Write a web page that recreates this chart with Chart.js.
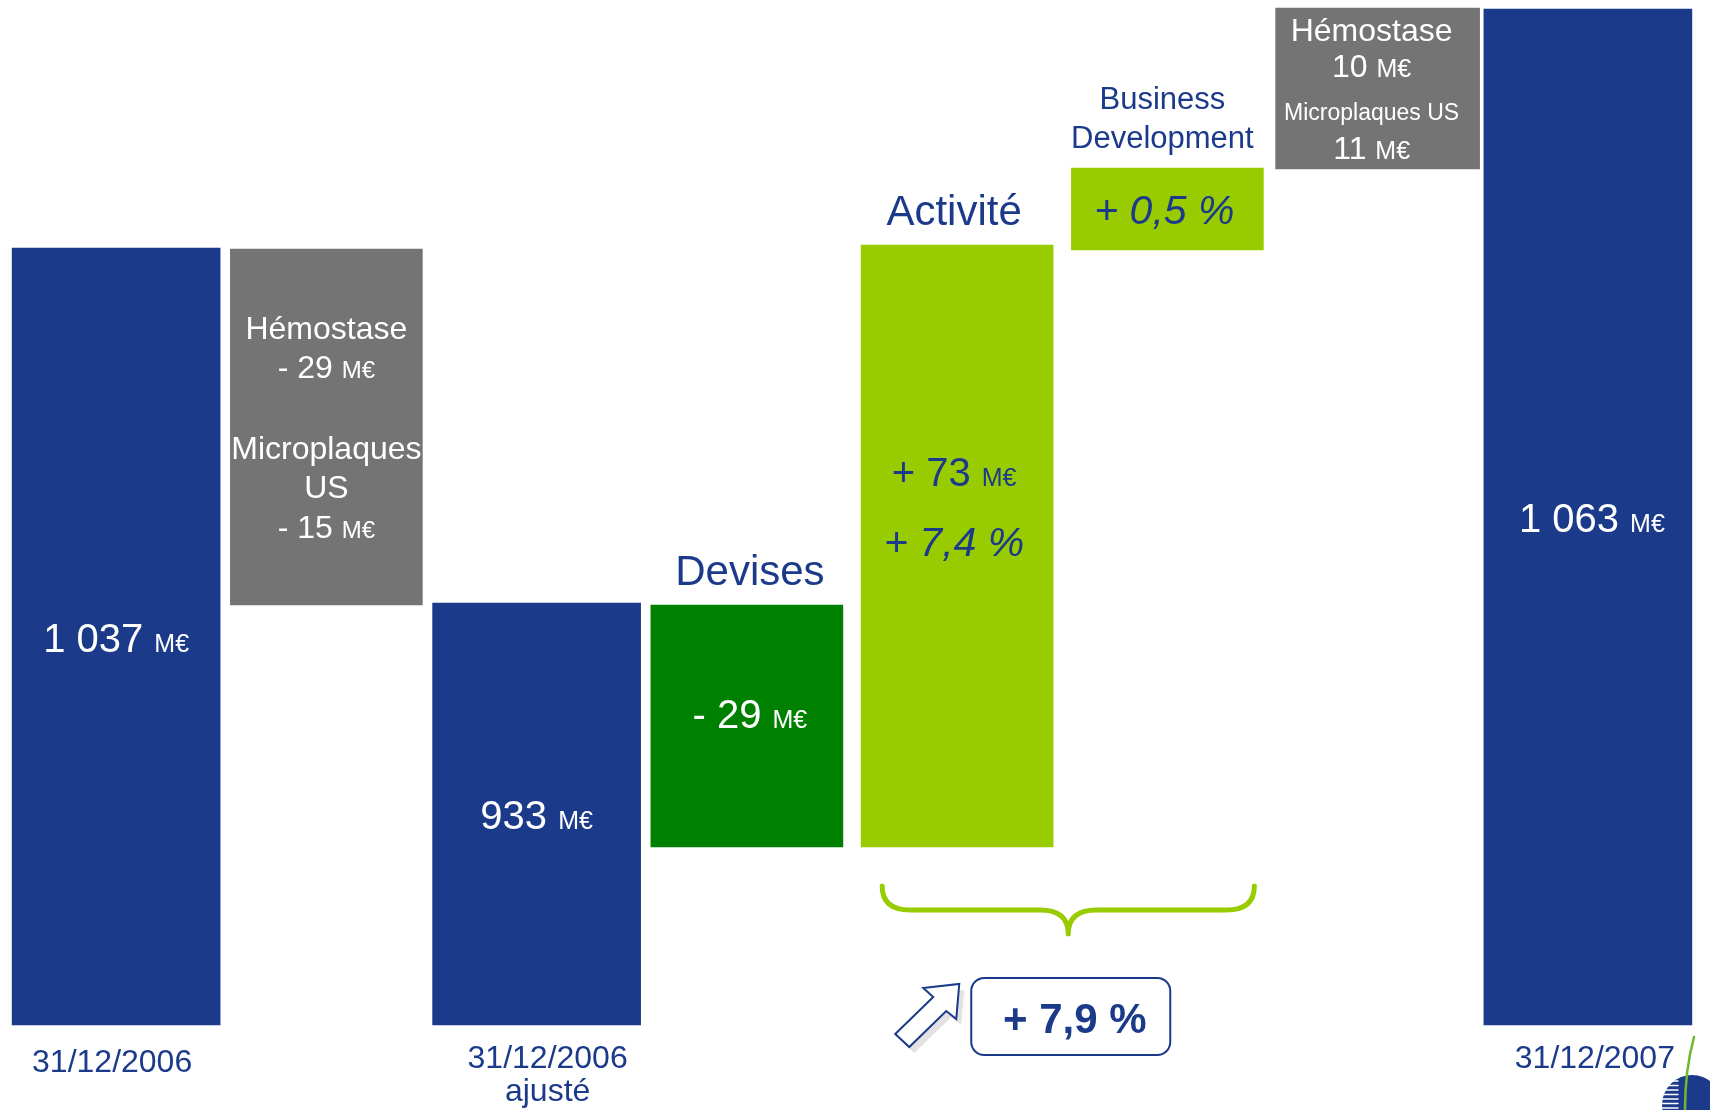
<!DOCTYPE html>
<html lang="fr">
<head>
<meta charset="utf-8">
<title>Chiffre d'affaires 2006 - 2007</title>
<script src="https://cdn.jsdelivr.net/npm/chart.js@4.4.1/dist/chart.umd.min.js"></script>
<style>
  html, body { margin: 0; padding: 0; background: #fff; }
  #wrap { position: relative; width: 1710px; height: 1110px; }
</style>
</head>
<body>
<div id="wrap"><canvas id="bridge"></canvas></div>
<script>
// ---- data ----
// steps of the bridge, left to right
const categories = ['31/12/2006', 'Périmètre 2006', '31/12/2006 ajusté', 'Devises', 'Activité', 'Business Development', 'Périmètre 2007', '31/12/2007'];

// amounts printed on the slide (M€)
const amounts = [1037, -44, 933, -29, 73, null, 21, 1063];

// the slide is schematic, not to scale: bar extents
const totalBars = [[0, 777], null, [0, 422], null, null, null, null, [0, 1016]];
const stepBars = [null, [420, 776], null, [178, 420], [178, 780], [775, 857], null, null];
const perimeter2007Bars = [null, null, null, null, null, null, [856, 1017], null];

// x axis labels under the total bars
const dateLabels = ['31/12/2006', '', '31/12/2006', '', '', '', '', '31/12/2007'];

// ---- styles ----
const NAVY = '#1b3a8a';
const GREY = '#747474';
const DARK_GREEN = '#008000';
const LIGHT_GREEN = '#99cc00';
const FONT = '"Liberation Sans", Arial, sans-serif';
const stepColors = [null, GREY, null, DARK_GREEN, LIGHT_GREEN, LIGHT_GREEN, null, null];

// draws several text runs (different sizes) on one baseline, centred on cx
function drawRuns(ctx, runs, cx, cy, color) {
    let total = 0;
    runs.forEach(r => {
        ctx.font = `${r[2] || ''} ${r[1]}px ${FONT}`;
        r.w = ctx.measureText(r[0]).width;
        total += r.w;
    });
    const maxSize = Math.max(...runs.map(r => r[1]));
    const base = cy + maxSize * 0.36;
    let x = cx - total / 2;
    ctx.fillStyle = color;
    ctx.textAlign = 'left';
    ctx.textBaseline = 'alphabetic';
    runs.forEach(r => {
        ctx.font = `${r[2] || ''} ${r[1]}px ${FONT}`;
        ctx.fillText(r[0], x, base);
        x += r.w;
    });
}

function meur(value, size, small) {
    return [[value + ' ', size], ['M€', small]];
}

// texts, brace, arrow and box drawn on top of the bars
const annotations = {
    id: 'annotations',
    afterDatasetsDraw(chart) {
        const ctx = chart.ctx;
        const totals = chart.getDatasetMeta(0).data;
        const steps = chart.getDatasetMeta(1).data;
        const per2007 = chart.getDatasetMeta(2).data;
        ctx.save();

        // totals: value in the middle, date underneath
        [0, 2, 7].forEach(i => {
            const b = totals[i];
            const mid = (b.y + b.base) / 2;
            drawRuns(ctx, meur(amounts[i].toLocaleString('fr-FR').replace(/\s/g, ' '), 40, 25), b.x + (i === 7 ? 4 : 0), mid + 1, '#fff');
        });
        drawRuns(ctx, [[dateLabels[0], 32]], totals[0].x - 4, totals[0].base + 35, NAVY);
        drawRuns(ctx, [[dateLabels[2], 32]], totals[2].x + 11, totals[2].base + 31, NAVY);
        drawRuns(ctx, [['ajusté', 32]], totals[2].x + 11, totals[2].base + 64, NAVY);
        drawRuns(ctx, [[dateLabels[7], 32]], totals[7].x + 7, totals[7].base + 31, NAVY);

        // périmètre 2006
        let b = steps[1];
        drawRuns(ctx, [['Hémostase', 32]], b.x, b.y + 78, '#fff');
        drawRuns(ctx, meur('- 29', 32, 24), b.x, b.y + 117, '#fff');
        drawRuns(ctx, [['Microplaques', 32]], b.x, b.y + 198, '#fff');
        drawRuns(ctx, [['US', 32]], b.x, b.y + 237, '#fff');
        drawRuns(ctx, meur('- 15', 32, 24), b.x, b.y + 277, '#fff');

        // devises
        b = steps[3];
        drawRuns(ctx, [['Devises', 42]], b.x + 3, b.y - 35, NAVY);
        drawRuns(ctx, meur('- 29', 40, 25), b.x + 3, (b.y + b.base) / 2 - 12, '#fff');

        // activité
        b = steps[4];
        drawRuns(ctx, [['Activité', 42]], b.x - 3, b.y - 35, NAVY);
        drawRuns(ctx, meur('+ 73', 40, 25), b.x - 3, b.y + 227, NAVY);
        drawRuns(ctx, [['+ 7,4 %', 41, 'italic']], b.x - 3, b.y + 296, NAVY);

        // business development
        b = steps[5];
        drawRuns(ctx, [['Business', 31]], b.x - 5, b.y - 70, NAVY);
        drawRuns(ctx, [['Development', 31]], b.x - 5, b.y - 31, NAVY);
        drawRuns(ctx, [['+ 0,5 %', 41, 'italic']], b.x - 3, (b.y + b.base) / 2, NAVY);

        // périmètre 2007
        b = per2007[6];
        drawRuns(ctx, [['Hémostase', 32]], b.x - 6, b.y + 21, '#fff');
        drawRuns(ctx, meur('10', 32, 25), b.x - 6, b.y + 57, '#fff');
        drawRuns(ctx, [['Microplaques US', 23]], b.x - 6, b.y + 104, '#fff');
        drawRuns(ctx, meur('11', 32, 25), b.x - 6, b.y + 139, '#fff');

        // brace under Activité + Business Development
        const act = steps[4], bd = steps[5];
        const xL = act.x - 75, xR = bd.x + 87;
        const xTip = (xL + xR) / 2;
        const yTop = act.base + 39, yMid = yTop + 24, yTip = yTop + 48;
        ctx.beginPath();
        ctx.moveTo(xL, yTop);
        ctx.quadraticCurveTo(xL, yMid, xL + 28, yMid);
        ctx.lineTo(xTip - 28, yMid);
        ctx.quadraticCurveTo(xTip, yMid, xTip, yTip);
        ctx.quadraticCurveTo(xTip, yMid, xTip + 28, yMid);
        ctx.lineTo(xR - 28, yMid);
        ctx.quadraticCurveTo(xR, yMid, xR, yTop);
        ctx.strokeStyle = LIGHT_GREEN;
        ctx.lineWidth = 5;
        ctx.lineCap = 'round';
        ctx.lineJoin = 'round';
        ctx.stroke();

        // rounded box with the total growth
        const bx = xTip - 97, by = yTop + 92, bw = 199, bh = 77, r = 13;
        ctx.beginPath();
        ctx.roundRect(bx, by, bw, bh, r);
        ctx.fillStyle = '#fff';
        ctx.fill();
        ctx.strokeStyle = NAVY;
        ctx.lineWidth = 2;
        ctx.stroke();
        drawRuns(ctx, [['+ 7,9 %', 42, 'bold']], bx + bw / 2 + 4, by + bh / 2 + 1, NAVY);

        // hollow arrow pointing up-right, with a soft shadow
        const arrow = [[-76, 56], [-38, 19], [-48, 10], [-12, 6], [-15, 41], [-25, 33], [-62, 69]];
        const poly = (dx, dy) => {
            ctx.beginPath();
            arrow.forEach((p, k) => k ? ctx.lineTo(bx + p[0] + dx, by + p[1] + dy) : ctx.moveTo(bx + p[0] + dx, by + p[1] + dy));
            ctx.closePath();
        };
        poly(5, 6);
        ctx.fillStyle = '#e2e2e2';
        ctx.fill();
        poly(0, 0);
        ctx.fillStyle = '#fff';
        ctx.fill();
        ctx.strokeStyle = NAVY;
        ctx.lineWidth = 2;
        ctx.lineJoin = 'miter';
        ctx.stroke();

        // small company logo in the corner
        const lx = 1692, ly = 1105;
        ctx.beginPath();
        ctx.arc(lx, ly, 30, 0, Math.PI * 2);
        ctx.fillStyle = NAVY;
        ctx.fill();
        ctx.strokeStyle = '#fff';
        ctx.lineWidth = 1.5;
        for (let yy = ly - 24; yy < 1110; yy += 4.5) {
            ctx.beginPath();
            ctx.moveTo(lx - 32, yy);
            ctx.lineTo(lx - 14, yy);
            ctx.stroke();
        }
        ctx.beginPath();
        ctx.moveTo(1694, 1037);
        ctx.quadraticCurveTo(1685, 1070, 1685, 1110);
        ctx.strokeStyle = '#6cb92e';
        ctx.lineWidth = 2.5;
        ctx.stroke();

        ctx.restore();
    }
};

const ctx = document.getElementById('bridge').getContext('2d');
window.bridgeChart = new Chart(ctx, {
    type: 'bar',
    data: {
        labels: categories,
        datasets: [
            {
                label: 'Chiffre d\'affaires',
                data: totalBars,
                backgroundColor: NAVY,
                barThickness: 208,
                grouped: false
            },
            {
                label: 'Variations',
                data: stepBars,
                backgroundColor: stepColors,
                barThickness: 192,
                grouped: false
            },
            {
                label: 'Périmètre 2007',
                data: perimeter2007Bars,
                backgroundColor: GREY,
                barThickness: 204,
                grouped: false
            }
        ]
    },
    options: {
        responsive: true,
        maintainAspectRatio: false,
        animation: false,
        layout: { padding: { left: 11, right: 17, top: 0, bottom: 0 } },
        plugins: {
            legend: { display: false },
            tooltip: { enabled: false }
        },
        scales: {
            x: { display: false },
            y: { display: false, min: -85, max: 1025 }
        }
    },
    plugins: [annotations]
});
</script>
</body>
</html>
